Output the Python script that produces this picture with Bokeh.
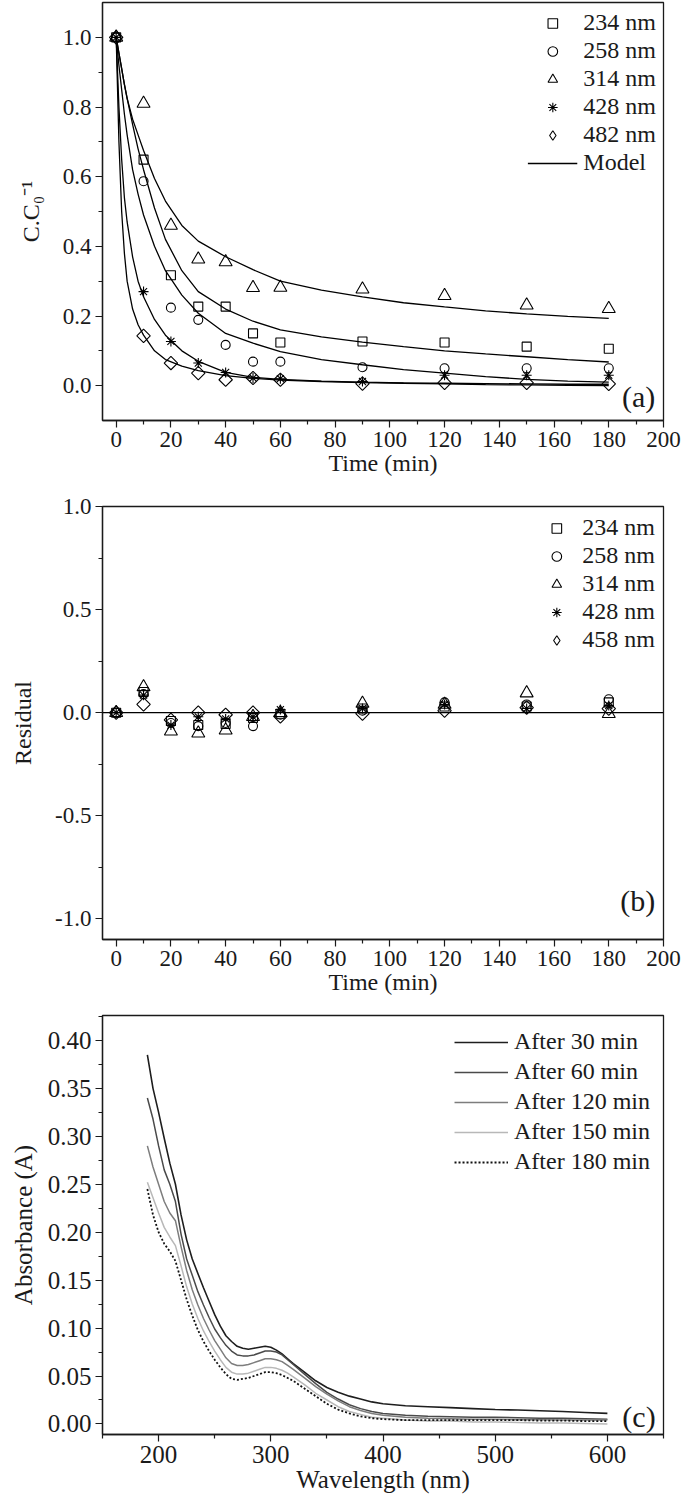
import math
from bokeh.plotting import figure
from bokeh.layouts import column
from bokeh.models import (FixedTicker, NumeralTickFormatter, Legend, LegendItem,
                          Span, Label, Range1d, ColumnDataSource)
from bokeh.embed import file_html
from bokeh.resources import INLINE

FONT = "'Liberation Serif', 'Times New Roman', serif"

# ---------------- Panel (a): normalised concentration ----------------
time_points = [0, 10, 20, 30, 40, 50, 60, 90, 120, 150, 180]
conc_234 = [1.0, 0.649, 0.317, 0.227, 0.227, 0.150, 0.124, 0.127, 0.124, 0.112, 0.106]
conc_258 = [1.0, 0.587, 0.224, 0.189, 0.117, 0.069, 0.069, 0.053, 0.050, 0.050, 0.050]
conc_314 = [1.0, 0.810, 0.460, 0.363, 0.355, 0.281, 0.282, 0.277, 0.258, 0.231, 0.221]
conc_428 = [1.0, 0.270, 0.127, 0.065, 0.038, 0.022, 0.020, 0.012, 0.030, 0.030, 0.030]
conc_482 = [1.0, 0.143, 0.065, 0.036, 0.017, 0.022, 0.017, 0.006, 0.008, 0.008, 0.005]

model_time = [0, 1, 2, 3, 4, 6, 8, 10, 14, 18, 24, 30, 40, 50, 60, 75, 90, 105, 120, 135, 150, 165, 180]
model_314 = [1.0, 0.955, 0.91, 0.865, 0.825, 0.765, 0.72, 0.675, 0.595, 0.53, 0.46, 0.415, 0.37,
             0.333, 0.30, 0.274, 0.255, 0.238, 0.226, 0.215, 0.206, 0.199, 0.193]
model_234 = [1.0, 0.955, 0.91, 0.865, 0.825, 0.75, 0.68, 0.62, 0.51, 0.42, 0.33, 0.27, 0.22,
             0.185, 0.16, 0.14, 0.125, 0.112, 0.10, 0.091, 0.083, 0.075, 0.068]
model_258 = [1.0, 0.92, 0.85, 0.78, 0.72, 0.62, 0.55, 0.49, 0.40, 0.33, 0.26, 0.208, 0.15,
             0.122, 0.098, 0.075, 0.06, 0.046, 0.036, 0.026, 0.018, 0.013, 0.01]
model_428 = [1.0, 0.80, 0.65, 0.54, 0.47, 0.37, 0.30, 0.255, 0.19, 0.145, 0.10, 0.07, 0.038,
             0.024, 0.018, 0.013, 0.01, 0.008, 0.007, 0.006, 0.005, 0.004, 0.004]
model_482 = [1.0, 0.70, 0.50, 0.38, 0.30, 0.22, 0.175, 0.145, 0.10, 0.075, 0.056, 0.043, 0.029,
             0.021, 0.016, 0.012, 0.009, 0.007, 0.005, 0.003, 0.002, 0.001, 0.0]

# ---------------- Panel (b): residuals ----------------
resid_234 = [0.0, 0.100, -0.040, -0.060, -0.055, -0.025, -0.005, 0.020, 0.030, 0.030, 0.050]
resid_258 = [0.0, 0.090, -0.050, -0.065, -0.050, -0.065, -0.010, 0.010, 0.050, 0.040, 0.065]
resid_314 = [0.0, 0.125, -0.090, -0.100, -0.085, -0.020, 0.000, 0.045, 0.040, 0.095, -0.005]
resid_428 = [0.0, 0.085, -0.060, -0.020, -0.030, -0.020, 0.015, 0.020, 0.040, 0.020, 0.035]
resid_458 = [0.0, 0.040, -0.035, 0.000, -0.010, 0.000, -0.018, -0.005, 0.010, 0.025, 0.020]

# ---------------- Panel (c): absorbance spectra ----------------
wavelength = [190, 195, 200, 205, 210, 215, 220, 225, 230, 235, 240, 245, 250, 255, 260, 265,
              270, 275, 280, 285, 290, 295, 300, 305, 310, 315, 320, 330, 340, 350, 360, 370,
              380, 390, 400, 420, 440, 460, 480, 500, 520, 540, 560, 580, 600]
abs_30 = [0.385, 0.350, 0.325, 0.298, 0.272, 0.250, 0.218, 0.192, 0.172, 0.157, 0.142, 0.128,
          0.114, 0.102, 0.092, 0.086, 0.081, 0.079, 0.078, 0.079, 0.080, 0.081, 0.080, 0.077,
          0.073, 0.068, 0.063, 0.054, 0.045, 0.038, 0.033, 0.029, 0.026, 0.023, 0.021, 0.019,
          0.018, 0.017, 0.016, 0.015, 0.0145, 0.0138, 0.013, 0.012, 0.011]
abs_60 = [0.340, 0.318, 0.290, 0.265, 0.250, 0.232, 0.198, 0.172, 0.155, 0.138, 0.124, 0.111,
          0.099, 0.090, 0.082, 0.076, 0.072, 0.071, 0.071, 0.072, 0.074, 0.076, 0.076, 0.075,
          0.072, 0.067, 0.062, 0.052, 0.042, 0.033, 0.026, 0.020, 0.016, 0.013, 0.011, 0.009,
          0.008, 0.0075, 0.007, 0.007, 0.0065, 0.006, 0.006, 0.0055, 0.005]
abs_120 = [0.290, 0.268, 0.250, 0.232, 0.220, 0.212, 0.185, 0.160, 0.140, 0.124, 0.110, 0.098,
           0.087, 0.078, 0.069, 0.063, 0.061, 0.061, 0.062, 0.064, 0.066, 0.068, 0.068, 0.067,
           0.065, 0.061, 0.057, 0.048, 0.039, 0.031, 0.024, 0.018, 0.014, 0.011, 0.009, 0.007,
           0.006, 0.0055, 0.005, 0.005, 0.0045, 0.0045, 0.004, 0.004, 0.004]
abs_150 = [0.252, 0.236, 0.220, 0.205, 0.195, 0.186, 0.165, 0.143, 0.125, 0.110, 0.097, 0.086,
           0.076, 0.067, 0.059, 0.054, 0.052, 0.052, 0.053, 0.055, 0.057, 0.059, 0.059, 0.058,
           0.056, 0.053, 0.049, 0.041, 0.032, 0.025, 0.018, 0.013, 0.010, 0.007, 0.006, 0.004,
           0.003, 0.003, 0.002, 0.002, 0.0015, 0.001, 0.001, 0.0005, 0.0]
abs_180 = [0.245, 0.218, 0.200, 0.188, 0.180, 0.170, 0.150, 0.130, 0.113, 0.098, 0.086, 0.076,
           0.067, 0.059, 0.052, 0.047, 0.046, 0.047, 0.048, 0.050, 0.052, 0.054, 0.054, 0.053,
           0.051, 0.048, 0.045, 0.037, 0.029, 0.021, 0.015, 0.011, 0.008, 0.006, 0.005, 0.004,
           0.004, 0.004, 0.004, 0.004, 0.004, 0.0035, 0.0035, 0.003, 0.003]

time_ticks = [0, 20, 40, 60, 80, 100, 120, 140, 160, 180, 200]
time_minor = [10, 30, 50, 70, 90, 110, 130, 150, 170, 190]

INK = "#1a1a1a"


def style(p, tick_size, title_size):
    p.outline_line_color = INK
    p.outline_line_width = 1.3
    p.xgrid.visible = False
    p.ygrid.visible = False
    p.background_fill_color = "white"
    p.border_fill_color = "white"
    for ax in (p.xaxis[0], p.yaxis[0]):
        ax.axis_line_color = INK
        ax.axis_line_width = 1.3
        ax.major_tick_line_color = INK
        ax.minor_tick_line_color = INK
        ax.major_tick_line_width = 1.2
        ax.minor_tick_line_width = 1.2
        ax.major_tick_out = 7
        ax.major_tick_in = 0
        ax.minor_tick_out = 4
        ax.minor_tick_in = 0
        ax.major_label_text_font = FONT
        ax.major_label_text_font_size = tick_size
        ax.major_label_text_color = INK
        ax.major_label_standoff = 4
        ax.axis_label_text_font = FONT
        ax.axis_label_text_font_size = title_size
        ax.axis_label_text_font_style = "normal"
        ax.axis_label_text_color = INK


def markers(p, ys):
    """Draw the five hollow marker series; return renderers used for the legend."""
    specs = [("square", 9), ("circle", 9), ("triangle", 13), ("asterisk", 10)]
    legend_rs = []
    for (mk, sz), y in zip(specs, ys[:4]):
        r = p.scatter(time_points, y, marker=mk, size=sz, line_color="black",
                      fill_alpha=0, line_width=1.1)
        legend_rs.append(r)
    # diamonds drawn as 45-degree squares (equal diagonals, as in the original)
    p.scatter(time_points, ys[4], marker="square", size=9.5, angle=math.pi / 4,
              line_color="black", fill_alpha=0, line_width=1.1)
    # legend-only renderer (a single NaN point, never visible) for an upright diamond key
    nan = float("nan")
    dummy = p.scatter(x="x", y="y", source=ColumnDataSource(data=dict(x=[nan], y=[nan])),
                      marker="diamond", size=12, line_color="black", fill_alpha=0,
                      line_width=1.1)
    legend_rs.append(dummy)
    return legend_rs


def make_legend(items, glyph_w, padding, spacing):
    lg = Legend(items=items, location="top_right", margin=0, padding=padding, spacing=spacing,
                glyph_width=glyph_w, glyph_height=24, label_height=24, label_standoff=6,
                label_text_font=FONT, label_text_font_size="24px", label_text_color=INK,
                background_fill_alpha=0, border_line_alpha=0)
    return lg


COMMON = dict(width=685, output_backend="svg", toolbar_location=None,
              min_border_left=102, min_border_right=22)

# ---------------- figure (a) ----------------
p1 = figure(height=486, x_range=Range1d(-5, 200), y_range=Range1d(-0.1, 1.1),
            min_border_top=2, min_border_bottom=66, **COMMON)
style(p1, "23px", "24px")
p1.xaxis.ticker = FixedTicker(ticks=time_ticks, minor_ticks=time_minor)
p1.yaxis.ticker = FixedTicker(ticks=[0.0, 0.2, 0.4, 0.6, 0.8, 1.0],
                              minor_ticks=[0.1, 0.3, 0.5, 0.7, 0.9])
p1.yaxis.formatter = NumeralTickFormatter(format="0.0")
p1.xaxis.axis_label = "Time (min)"
p1.yaxis.axis_label = "C.C\u2080\u207b\u00b9"
p1.xaxis.axis_label_standoff = 0
p1.yaxis.axis_label_standoff = 16

model_lines = []
for m in (model_314, model_234, model_258, model_428, model_482):
    model_lines.append(p1.line(model_time, m, line_color="black", line_width=1.3))
rs1 = markers(p1, [conc_234, conc_258, conc_314, conc_428, conc_482])
labels1 = ["234 nm", "258 nm", "314 nm", "428 nm", "482 nm"]
items1 = [LegendItem(label=l, renderers=[r]) for l, r in zip(labels1, rs1)]
items1.append(LegendItem(label="Model", renderers=[model_lines[0]]))
p1.add_layout(make_legend(items1, 50, 7, 1))
p1.add_layout(Label(x=197, y=-0.03, text="(a)", text_align="right", text_baseline="middle",
                    text_font=FONT, text_font_size="30px", text_color=INK))

# ---------------- figure (b) ----------------
p2 = figure(height=516, x_range=Range1d(-5, 200), y_range=Range1d(-1.1, 1.0),
            min_border_top=20, min_border_bottom=63, **COMMON)
style(p2, "23px", "24px")
p2.xaxis.ticker = FixedTicker(ticks=time_ticks, minor_ticks=time_minor)
p2.yaxis.ticker = FixedTicker(ticks=[-1.0, -0.5, 0.0, 0.5, 1.0],
                              minor_ticks=[-0.75, -0.25, 0.25, 0.75])
p2.yaxis.formatter = NumeralTickFormatter(format="0.0")
p2.xaxis.axis_label = "Time (min)"
p2.yaxis.axis_label = "Residual"
p2.xaxis.axis_label_standoff = 0
p2.yaxis.axis_label_standoff = 16
p2.add_layout(Span(location=0, dimension="width", line_color="black", line_width=1.3))
rs2 = markers(p2, [resid_234, resid_258, resid_314, resid_428, resid_458])
labels2 = ["234 nm", "258 nm", "314 nm", "428 nm", "458 nm"]
items2 = [LegendItem(label=l, renderers=[r]) for l, r in zip(labels2, rs2)]
p2.add_layout(make_legend(items2, 40, 8, 1))
p2.add_layout(Label(x=197, y=-0.91, text="(b)", text_align="right", text_baseline="middle",
                    text_font=FONT, text_font_size="30px", text_color=INK))

# ---------------- figure (c) ----------------
p3 = figure(height=504, x_range=Range1d(150, 650), y_range=Range1d(-0.011, 0.426),
            min_border_top=13, min_border_bottom=72, **COMMON)
style(p3, "25px", "25px")
p3.xaxis.ticker = FixedTicker(ticks=[200, 300, 400, 500, 600],
                              minor_ticks=[150, 250, 350, 450, 550, 650])
p3.yaxis.ticker = FixedTicker(
    ticks=[0.0, 0.05, 0.10, 0.15, 0.20, 0.25, 0.30, 0.35, 0.40],
    minor_ticks=[0.025, 0.075, 0.125, 0.175, 0.225, 0.275, 0.325, 0.375, 0.425])
p3.yaxis.formatter = NumeralTickFormatter(format="0.00")
p3.xaxis.axis_label = "Wavelength (nm)"
p3.yaxis.axis_label = "Absorbance (A)"
p3.xaxis.axis_label_standoff = 0
p3.yaxis.axis_label_standoff = 8

spec_series = [abs_30, abs_60, abs_120, abs_150, abs_180]
spec_colors = ["#1e1e1e", "#4a4a4a", "#7d7d7d", "#b8b8b8", "#111111"]
spec_dash = ["solid", "solid", "solid", "solid", "2 2"]
spec_width = [1.6, 1.5, 1.5, 1.5, 1.8]
spec_labels = ["After 30 min", "After 60 min", "After 120 min", "After 150 min", "After 180 min"]
rs3 = []
for ys, c, d, w in zip(spec_series, spec_colors, spec_dash, spec_width):
    rs3.append(p3.line(wavelength, ys, line_color=c, line_dash=d, line_width=w))
items3 = [LegendItem(label=l, renderers=[r]) for l, r in zip(spec_labels, rs3)]
p3.add_layout(make_legend(items3, 54, 13, 3))
p3.add_layout(Label(x=643, y=0.008, text="(c)", text_align="right", text_baseline="middle",
                    text_font=FONT, text_font_size="30px", text_color=INK))

layout = column(p1, p2, p3, spacing=0)
open("out.html", "w").write(file_html(layout, INLINE))
